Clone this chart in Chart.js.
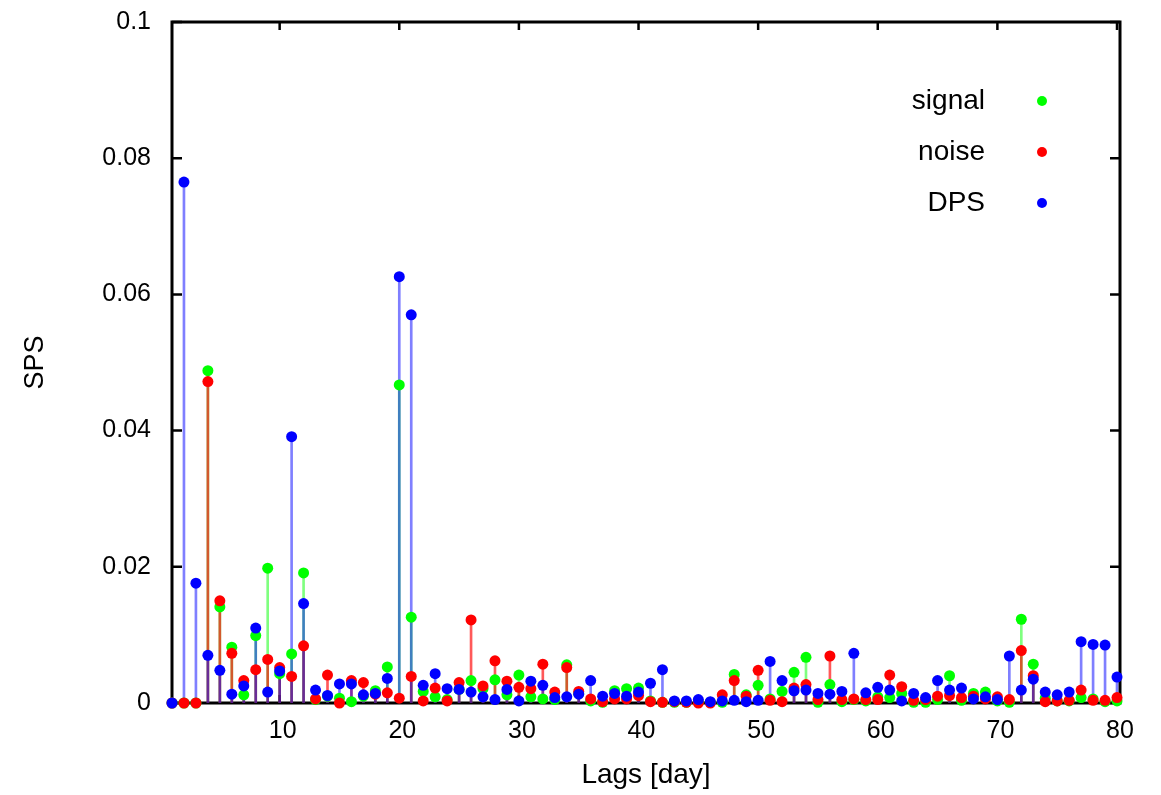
<!DOCTYPE html>
<html>
<head>
<meta charset="utf-8">
<title>SPS</title>
<script src="https://cdn.jsdelivr.net/npm/chart.js@4.4.1/dist/chart.umd.min.js"></script>
<style>
    html, body { margin: 0; padding: 0; background: #fff; }
    #chartBox { position: relative; width: 1161px; height: 795px; }
</style>
</head>
<body>
<div id="chartBox"><canvas id="spsChart"></canvas></div>
<script>
// lag axis (days)
const lags = [
    1, 2, 3, 4, 5, 6, 7, 8, 9, 10, 11, 12, 13, 14, 15, 16, 17, 18, 19, 20,
    21, 22, 23, 24, 25, 26, 27, 28, 29, 30, 31, 32, 33, 34, 35, 36, 37, 38, 39, 40,
    41, 42, 43, 44, 45, 46, 47, 48, 49, 50, 51, 52, 53, 54, 55, 56, 57, 58, 59, 60,
    61, 62, 63, 64, 65, 66, 67, 68, 69, 70, 71, 72, 73, 74, 75, 76, 77, 78, 79, 80
];

// series values
const signal = [
    0, 0, 0, 0.0488, 0.0141, 0.0082, 0.0012, 0.0099, 0.0198, 0.0043,
    0.0072, 0.0191, 0.0005, 0.0010, 0.0007, 0.0002, 0.0010, 0.0018, 0.0053, 0.0467,
    0.0126, 0.0017, 0.0009, 0.0005, 0.0020, 0.0033, 0.0021, 0.0034, 0.0012, 0.0041,
    0.0009, 0.0006, 0.0005, 0.0056, 0.0014, 0.0003, 0.0001, 0.0018, 0.0021, 0.0022,
    0.0003, 0.0001, 0.0001, 0.0001, 0.0002, 0.0001, 0.0001, 0.0042, 0.0012, 0.0026,
    0.0006, 0.0017, 0.0045, 0.0067, 0.0001, 0.0027, 0.0002, 0.0005, 0.0003, 0.0009,
    0.0008, 0.0014, 0.0001, 0.0001, 0.0005, 0.0040, 0.0004, 0.0014, 0.0016, 0.0003,
    0.0001, 0.0123, 0.0057, 0.0007, 0.0003, 0.0003, 0.0008, 0.0006, 0.0002, 0.0003
];
const noise = [
    0, 0, 0, 0.0472, 0.0150, 0.0073, 0.0033, 0.0049, 0.0064, 0.0052,
    0.0039, 0.0084, 0.0006, 0.0041, 0.0000, 0.0033, 0.0030, 0.0013, 0.0015, 0.0007,
    0.0039, 0.0003, 0.0022, 0.0003, 0.0030, 0.0122, 0.0025, 0.0062, 0.0032, 0.0023,
    0.0021, 0.0057, 0.0016, 0.0052, 0.0017, 0.0006, 0.0002, 0.0006, 0.0006, 0.0011,
    0.0002, 0.0001, 0.0002, 0.0001, 0.0000, 0.0000, 0.0012, 0.0033, 0.0010, 0.0048,
    0.0004, 0.0002, 0.0022, 0.0027, 0.0005, 0.0069, 0.0005, 0.0006, 0.0005, 0.0005,
    0.0041, 0.0024, 0.0004, 0.0005, 0.0010, 0.0011, 0.0008, 0.0010, 0.0006, 0.0009,
    0.0005, 0.0077, 0.0040, 0.0002, 0.0003, 0.0004, 0.0019, 0.0004, 0.0004, 0.0008
];
const dps = [
    0, 0.0765, 0.0176, 0.0070, 0.0048, 0.0013, 0.0025, 0.0110, 0.0016, 0.0047,
    0.0391, 0.0146, 0.0019, 0.0011, 0.0028, 0.0028, 0.0012, 0.0014, 0.0036, 0.0626,
    0.0570, 0.0026, 0.0043, 0.0021, 0.0020, 0.0016, 0.0009, 0.0005, 0.0020, 0.0003,
    0.0032, 0.0026, 0.0008, 0.0009, 0.0013, 0.0033, 0.0010, 0.0014, 0.0010, 0.0016,
    0.0029, 0.0049, 0.0003, 0.0003, 0.0005, 0.0002, 0.0003, 0.0004, 0.0002, 0.0004,
    0.0061, 0.0033, 0.0018, 0.0019, 0.0014, 0.0013, 0.0017, 0.0073, 0.0015, 0.0023,
    0.0019, 0.0003, 0.0014, 0.0008, 0.0033, 0.0019, 0.0022, 0.0006, 0.0009, 0.0005,
    0.0069, 0.0019, 0.0035, 0.0016, 0.0012, 0.0016, 0.0090, 0.0086, 0.0085, 0.0038
];

// tick labels
const xTicks = [10, 20, 30, 40, 50, 60, 70, 80];
const yTicks = [0, 0.02, 0.04, 0.06, 0.08, 0.1];

const FONT = '"Liberation Sans", Arial, Helvetica, sans-serif';

document.addEventListener('DOMContentLoaded', function() {
    let spsChart = null;

    // gnuplot style frame: full border with inward ticks on all four sides
    const framePlugin = {
        id: 'frame',
        beforeDatasetsDraw(chart) {
            const { ctx, chartArea: a, scales: { x, y } } = chart;
            ctx.save();
            ctx.strokeStyle = '#000';
            ctx.lineWidth = 3;
            ctx.strokeRect(a.left, a.top, a.right - a.left, a.bottom - a.top);
            ctx.lineWidth = 2.5;
            ctx.beginPath();
            yTicks.forEach(function(v) {
                const py = y.getPixelForValue(v);
                ctx.moveTo(a.left, py); ctx.lineTo(a.left + 10, py);
                ctx.moveTo(a.right, py); ctx.lineTo(a.right - 10, py);
            });
            xTicks.forEach(function(v) {
                const px = x.getPixelForValue(v);
                ctx.moveTo(px, a.bottom); ctx.lineTo(px, a.bottom - 8);
                ctx.moveTo(px, a.top); ctx.lineTo(px, a.top + 8);
            });
            ctx.stroke();
            ctx.restore();
        }
    };

    // key in the top right corner: text first, dot after it
    const keyPlugin = {
        id: 'key',
        afterDraw(chart) {
            const { ctx } = chart;
            const pointSets = chart.data.datasets.filter(function(d) { return d.type === 'scatter'; });
            ctx.save();
            ctx.font = '28px ' + FONT;
            ctx.textAlign = 'right';
            ctx.textBaseline = 'middle';
            pointSets.forEach(function(d, i) {
                const rowY = 101 + i * 51;
                ctx.fillStyle = '#000';
                ctx.fillText(d.label, 985, rowY);
                ctx.fillStyle = d.backgroundColor;
                ctx.beginPath();
                ctx.arc(1042, rowY, 5, 0, Math.PI * 2);
                ctx.fill();
            });
            ctx.restore();
        }
    };

    function toPoints(values) {
        return lags.map(function(l, i) { return { x: l, y: values[i] }; });
    }

    // impulses drawn as thin bars
    function stemSet(label, values, color, order) {
        return {
            type: 'bar',
            label: label + ' stem',
            data: toPoints(values),
            backgroundColor: color,
            borderWidth: 0,
            barThickness: 2,
            grouped: false,
            order: order
        };
    }

    function pointSet(label, values, color, order) {
        return {
            type: 'scatter',
            label: label,
            data: toPoints(values),
            backgroundColor: color,
            borderWidth: 0,
            pointRadius: 5.5,
            pointHoverRadius: 5.5,
            clip: false,
            order: order
        };
    }

    function initChart() {
        try {
            const ctx = document.getElementById('spsChart');
            spsChart = new Chart(ctx, {
                type: 'scatter',
                data: {
                    datasets: [
                        stemSet('signal', signal, 'rgba(0, 255, 0, 0.5)', 6),
                        stemSet('noise', noise, 'rgba(255, 0, 0, 0.65)', 5),
                        stemSet('DPS', dps, 'rgba(0, 0, 255, 0.5)', 4),
                        pointSet('signal', signal, '#00ff00', 3),
                        pointSet('noise', noise, '#ff0000', 2),
                        pointSet('DPS', dps, '#0000ff', 1)
                    ]
                },
                options: {
                    responsive: true,
                    maintainAspectRatio: false,
                    animation: false,
                    layout: { padding: { top: 22, right: 41, bottom: 0, left: 0 } },
                    plugins: {
                        legend: { display: false },
                        tooltip: { enabled: false }
                    },
                    scales: {
                        x: {
                            type: 'linear',
                            min: 1,
                            max: 80.25,
                            offset: false,
                            grid: { display: false, drawTicks: false },
                            border: { display: false },
                            afterBuildTicks: function(axis) {
                                axis.ticks = xTicks.map(function(v) { return { value: v }; });
                            },
                            afterFit: function(axis) {
                                axis.height = 92;
                                axis.paddingLeft = 0;
                                axis.paddingRight = 0;
                            },
                            ticks: {
                                color: '#000',
                                font: { family: FONT, size: 25 },
                                padding: 13,
                                labelOffset: 3,
                                maxRotation: 0,
                                autoSkip: false
                            },
                            title: {
                                display: true,
                                text: 'Lags [day]',
                                color: '#000',
                                font: { family: FONT, size: 28 },
                                padding: { top: 0, bottom: 3 }
                            }
                        },
                        y: {
                            min: 0,
                            max: 0.1,
                            grid: { display: false, drawTicks: false },
                            border: { display: false },
                            afterBuildTicks: function(axis) {
                                axis.ticks = yTicks.map(function(v) { return { value: v }; });
                            },
                            afterFit: function(axis) {
                                axis.width = 172;
                                // keep the label padding from pushing the plot area down
                                axis.paddingTop = 0;
                                axis.paddingBottom = 0;
                            },
                            ticks: {
                                color: '#000',
                                font: { family: FONT, size: 25 },
                                padding: 21,
                                callback: function(v) { return String(+v.toFixed(2)); }
                            },
                            title: {
                                display: true,
                                text: 'SPS',
                                color: '#000',
                                font: { family: FONT, size: 27 },
                                padding: { top: 19, bottom: 0 }
                            }
                        }
                    }
                },
                plugins: [framePlugin, keyPlugin]
            });
        } catch (error) {
            console.error('chart init failed:', error);
        }
    }

    initChart();
});
</script>
</body>
</html>
